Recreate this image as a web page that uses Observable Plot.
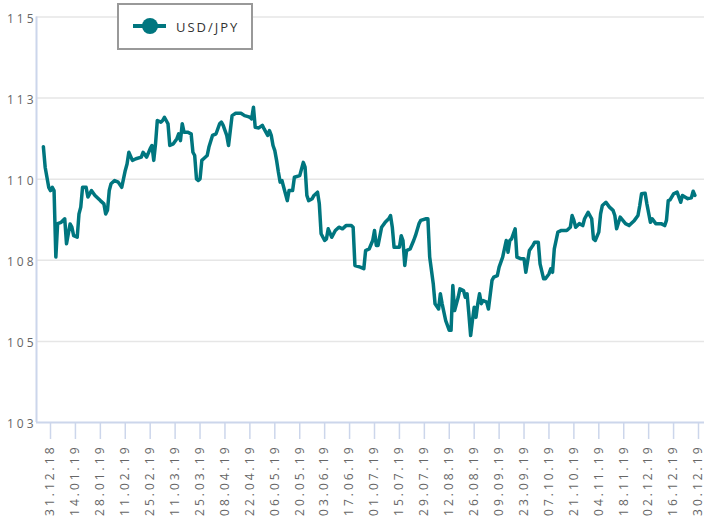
<!DOCTYPE html>
<html>
<head>
<meta charset="utf-8">
<script src="https://cdn.jsdelivr.net/npm/d3@7"></script>
<script src="https://cdn.jsdelivr.net/npm/@observablehq/plot@0.6"></script>
<style>
  html, body { margin: 0; padding: 0; background: #fff; }
  #wrap { position: relative; width: 704px; height: 519px; overflow: hidden; font-family: 'Open Sans', sans-serif; }
  #chart svg text { letter-spacing: 3px; }
  #legend { position: absolute; left: 117px; top: 3px; width: 136px; height: 47px; box-sizing: border-box;
            border: 2px solid #999; background: #fff; }
  #legend svg { position: absolute; left: 0; top: 0; }
  #legend span { position: absolute; left: 57px; top: 13px; font-size: 13px; letter-spacing: 2px; color: #333; line-height: 18px; }
</style>
</head>
<body>
<div id="wrap">
  <div id="chart"></div>
  <div id="legend">
    <svg width="60" height="43"><line x1="14" x2="47" y1="21" y2="21" stroke="#00767f" stroke-width="4"/><circle cx="31" cy="21" r="8" fill="#00767f"/></svg>
    <span id="legendText"></span>
  </div>
</div>
<script>
const seriesName = "USD/JPY";

const dates = [
  "2018-12-27","2018-12-28","2018-12-30","2018-12-31","2019-01-01","2019-01-02","2019-01-03","2019-01-04","2019-01-06","2019-01-08",
  "2019-01-09","2019-01-11","2019-01-12","2019-01-13","2019-01-15","2019-01-16","2019-01-17","2019-01-18","2019-01-20","2019-01-21",
  "2019-01-23","2019-01-25","2019-01-28","2019-01-30","2019-01-31","2019-02-01","2019-02-02","2019-02-03","2019-02-05","2019-02-07",
  "2019-02-09","2019-02-11","2019-02-12","2019-02-13","2019-02-15","2019-02-17","2019-02-20","2019-02-21","2019-02-23","2019-02-25",
  "2019-02-26","2019-02-27","2019-02-28","2019-03-01","2019-03-03","2019-03-04","2019-03-05","2019-03-07","2019-03-08","2019-03-10",
  "2019-03-12","2019-03-13","2019-03-14","2019-03-15","2019-03-16","2019-03-18","2019-03-20","2019-03-21","2019-03-22","2019-03-23",
  "2019-03-24","2019-03-25","2019-03-26","2019-03-27","2019-03-29","2019-03-30","2019-04-01","2019-04-03","2019-04-05","2019-04-06",
  "2019-04-07","2019-04-09","2019-04-10","2019-04-11","2019-04-12","2019-04-14","2019-04-17","2019-04-19","2019-04-21","2019-04-22",
  "2019-04-23","2019-04-24","2019-04-25","2019-04-27","2019-04-29","2019-04-30","2019-05-02","2019-05-03","2019-05-04","2019-05-05",
  "2019-05-06","2019-05-07","2019-05-08","2019-05-09","2019-05-10","2019-05-11","2019-05-13","2019-05-14","2019-05-16","2019-05-17",
  "2019-05-20","2019-05-22","2019-05-23","2019-05-24","2019-05-25","2019-05-27","2019-05-28","2019-05-30","2019-05-31","2019-06-01",
  "2019-06-03","2019-06-04","2019-06-05","2019-06-07","2019-06-09","2019-06-11","2019-06-13","2019-06-15","2019-06-18","2019-06-19",
  "2019-06-20","2019-06-23","2019-06-25","2019-06-26","2019-06-28","2019-06-30","2019-07-01","2019-07-02","2019-07-03","2019-07-05",
  "2019-07-07","2019-07-09","2019-07-10","2019-07-11","2019-07-12","2019-07-15","2019-07-16","2019-07-17","2019-07-18","2019-07-19",
  "2019-07-21","2019-07-23","2019-07-24","2019-07-26","2019-07-27","2019-07-30","2019-07-31","2019-08-01","2019-08-03","2019-08-04",
  "2019-08-06","2019-08-07","2019-08-08","2019-08-10","2019-08-12","2019-08-13","2019-08-14","2019-08-15","2019-08-17","2019-08-18",
  "2019-08-20","2019-08-21","2019-08-22","2019-08-23","2019-08-24","2019-08-25","2019-08-26","2019-08-27","2019-08-28","2019-08-29",
  "2019-08-30","2019-08-31","2019-09-02","2019-09-03","2019-09-05","2019-09-06","2019-09-08","2019-09-09","2019-09-11","2019-09-13",
  "2019-09-14","2019-09-15","2019-09-16","2019-09-18","2019-09-19","2019-09-21","2019-09-23","2019-09-24","2019-09-26","2019-09-28",
  "2019-09-29","2019-10-01","2019-10-02","2019-10-04","2019-10-05","2019-10-07","2019-10-08","2019-10-09","2019-10-10","2019-10-12",
  "2019-10-14","2019-10-17","2019-10-19","2019-10-20","2019-10-21","2019-10-22","2019-10-24","2019-10-26","2019-10-27","2019-10-29",
  "2019-10-31","2019-11-01","2019-11-02","2019-11-04","2019-11-05","2019-11-06","2019-11-08","2019-11-10","2019-11-12","2019-11-13",
  "2019-11-14","2019-11-16","2019-11-19","2019-11-21","2019-11-24","2019-11-26","2019-11-27","2019-11-28","2019-11-30","2019-12-01",
  "2019-12-03","2019-12-04","2019-12-06","2019-12-09","2019-12-11","2019-12-12","2019-12-13","2019-12-14","2019-12-16","2019-12-18",
  "2019-12-20","2019-12-21","2019-12-24","2019-12-26","2019-12-27","2019-12-28"
];

const usdJpy = [
  111.00,110.37,109.75,109.65,109.75,109.65,107.60,108.63,108.67,108.78,
  108.01,108.62,108.52,108.26,108.21,108.93,109.14,109.75,109.75,109.45,
  109.65,109.50,109.34,109.24,108.93,109.04,109.65,109.86,109.96,109.91,
  109.75,110.27,110.47,110.83,110.58,110.63,110.68,110.83,110.68,110.94,
  111.04,110.58,111.09,111.81,111.76,111.81,111.91,111.71,111.04,111.09,
  111.25,111.40,111.19,111.71,111.45,111.45,111.40,110.83,110.73,110.01,
  109.96,110.01,110.58,110.63,110.73,110.99,111.35,111.40,111.71,111.76,
  111.66,111.35,111.04,111.50,111.96,112.03,112.03,111.96,111.93,111.91,
  111.86,112.22,111.60,111.58,111.66,111.55,111.35,111.50,111.35,111.04,
  110.88,110.58,110.22,109.91,109.96,109.75,109.34,109.65,109.65,110.06,
  110.11,110.52,110.37,109.50,109.34,109.40,109.50,109.60,109.24,108.32,
  108.11,108.16,108.47,108.21,108.42,108.52,108.47,108.57,108.57,108.52,
  107.34,107.29,107.24,107.80,107.85,108.11,108.42,107.96,107.96,108.52,
  108.67,108.78,108.88,108.52,107.90,107.90,108.26,108.11,107.34,107.80,
  107.85,108.11,108.26,108.63,108.73,108.78,108.78,107.60,106.78,106.16,
  106.00,106.47,106.16,105.64,105.34,105.34,106.72,105.95,106.36,106.62,
  106.57,106.36,106.47,105.85,105.18,105.64,106.05,105.74,106.16,106.47,
  106.16,106.26,106.21,106.00,106.88,106.98,107.03,107.29,107.60,108.11,
  107.75,108.11,108.16,108.47,107.60,107.55,107.55,107.13,107.80,107.96,
  108.06,108.06,107.39,106.93,106.93,107.08,107.24,107.13,107.85,108.37,
  108.42,108.42,108.52,108.88,108.73,108.52,108.63,108.57,108.78,108.98,
  108.78,108.16,108.11,108.37,108.93,109.19,109.29,109.14,109.04,108.88,
  108.47,108.83,108.63,108.57,108.73,108.88,109.19,109.55,109.57,109.24,
  108.67,108.78,108.63,108.63,108.57,108.73,109.34,109.36,109.55,109.60,
  109.29,109.50,109.40,109.43,109.63,109.50
];

const xTicks = [
  "2018-12-31","2019-01-14","2019-01-28","2019-02-11","2019-02-25","2019-03-11","2019-03-25",
  "2019-04-08","2019-04-22","2019-05-06","2019-05-20","2019-06-03","2019-06-17","2019-07-01",
  "2019-07-15","2019-07-29","2019-08-12","2019-08-26","2019-09-09","2019-09-23","2019-10-07",
  "2019-10-21","2019-11-04","2019-11-18","2019-12-02","2019-12-16","2019-12-30"
];
const yTicks = [102.5, 105, 107.5, 110, 112.5, 115];

document.getElementById("legendText").textContent = seriesName;

const data = dates.map((d, i) => ({date: new Date(d), value: usdJpy[i]}));
const xTickDates = xTicks.map(d => new Date(d));
const fmt = d3.utcFormat("%d.%m.%y");

// layout
const W = 704, H = 519, mL = 36, mR = 0, mT = 16.5, mB = 97;
const firstTick = xTickDates[0], lastTick = xTickDates[xTickDates.length - 1];
const msPerPx = (lastTick - firstTick) / (698 - 50);
const xDomain = [new Date(+firstTick - (50 - mL) * msPerPx), new Date(+lastTick + (W - mR - 698) * msPerPx)];
const yDomain = [yTicks[0], yTicks[yTicks.length - 1]];
const unitsPerPx = (yDomain[1] - yDomain[0]) / (H - mB - mT);
const tickLen = 17;

const chart = Plot.plot({
  width: W, height: H,
  marginLeft: mL, marginRight: mR, marginTop: mT, marginBottom: mB,
  style: {fontFamily: "'Open Sans', sans-serif", fontSize: "12px", overflow: "visible", background: "#fff"},
  x: {type: "utc", domain: xDomain, axis: null},
  y: {domain: yDomain, axis: null},
  marks: [
    Plot.ruleY(yTicks.slice(1), {y: d => d, stroke: "#e6e6e6", strokeWidth: 1.5}),
    Plot.ruleY([yDomain[0]], {y: d => d, stroke: "#ccd6eb", strokeWidth: 2}),
    Plot.ruleX([xDomain[0]], {x: d => d, stroke: "#ccd6eb", strokeWidth: 2}),
    Plot.ruleX(xTickDates, {x: d => d, y1: yDomain[0], y2: yDomain[0] - tickLen * unitsPerPx, stroke: "#ccd6eb", strokeWidth: 1.5}),
    Plot.text(yTicks, {y: d => d, frameAnchor: "left", text: d => String(Math.round(d)), textAnchor: "end", lineAnchor: "middle", dy: 2, fill: "#666", fontSize: 12}),
    Plot.text(xTickDates, {x: d => d, y: yDomain[0], text: d => fmt(d), rotate: -90, textAnchor: "end", lineAnchor: "middle", dy: tickLen + 5, fill: "#666", fontSize: 12}),
    Plot.line(data, {x: "date", y: "value", stroke: "#00767f", strokeWidth: 3.5, strokeLinejoin: "round", strokeLinecap: "round"})
  ]
});
document.getElementById("chart").appendChild(chart);
</script>
</body>
</html>
